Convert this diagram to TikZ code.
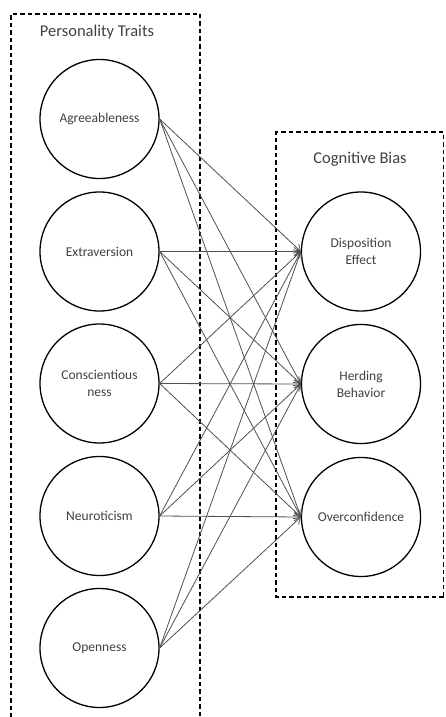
\documentclass[tikz,border=0pt]{standalone}
\usepackage{fontspec}
\setmainfont{Carlito}
\usepackage{tikz}
\usetikzlibrary{arrows.meta,positioning,calc}
\usepackage{xcolor}
\definecolor{ftext}{HTML}{404040}
\definecolor{flink}{HTML}{505050}

\tikzset{
  trait/.style={circle, draw=black, line width=1.3pt, minimum size=119pt,
    inner sep=0pt, align=center, text=ftext, font=\fontsize{13.5}{17}\selectfont},
  group/.style={draw=black, line width=1.4pt, dash pattern=on 4.5pt off 3pt},
  link/.style={flink, line width=0.8pt, -{Straight Barb[length=6pt,width=8pt]}},
  grouptitle/.style={text=ftext, font=\fontsize{16.5}{20}\selectfont}
}

\begin{document}
\begin{tikzpicture}[x=1pt, y=-1pt]
\useasboundingbox (0,0) rectangle (445,717);
% ---------------- dashed groups ----------------
\draw[group] (11,725) -- (11,14) -- (200,14) -- (200,725);
\draw[group] (443.5,597) -- (276,597) -- (276,132) -- (443.5,132) -- cycle;
\node[grouptitle] (ptitle) at (97,32) {Personality Traits};
\node[grouptitle] (ctitle) at (360,159) {Cognitive Bias};
% ---------------- personality traits ----------------
\node[trait] (agree) at (99.5,119)   {Agreeableness};
\node[trait] (extra) at (99.5,251.5) {Extraversion};
\node[trait] (consc) at (99.5,383.5) {Conscientious\\ness};
\node[trait] (neuro) at (99.5,516)   {Neuroticism};
\node[trait] (open)  at (99.5,648)   {Openness};
% ---------------- cognitive biases ----------------
\node[trait] (disp) at (361,251.5) {Disposition\\Effect};
\node[trait] (herd) at (361,384)   {Herding\\Behavior};
\node[trait] (over) at (361,517)   {Overconfidence};
% ---------------- every trait to every bias ----------------
\foreach \t in {agree,extra,consc,neuro,open}{
  \foreach \b in {disp,herd,over}{
    \draw[link] (\t.east) -- (\b.west);}}
\end{tikzpicture}
\end{document}
